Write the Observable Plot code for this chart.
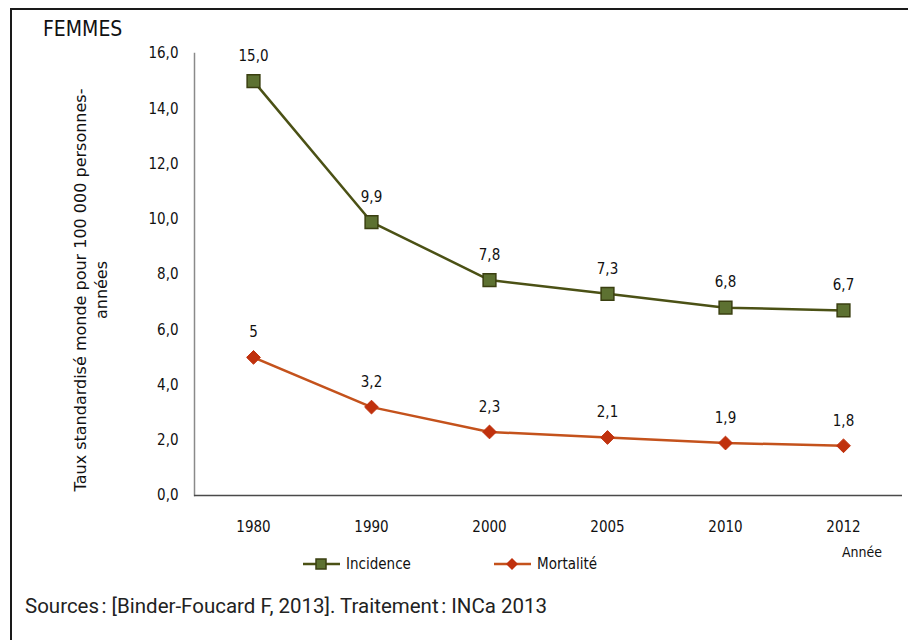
<!DOCTYPE html>
<html>
<head>
<meta charset="utf-8">
<script src="https://cdn.jsdelivr.net/npm/d3@7"></script>
<script src="https://cdn.jsdelivr.net/npm/@observablehq/plot@0.6"></script>
<style>
  html, body { margin: 0; padding: 0; background: #fff; }
  #wrap { position: relative; width: 908px; height: 640px; overflow: hidden; background: #fff; }
  #wrap svg { position: absolute; left: 0; top: 0; }
  .frame { position: absolute; left: 10px; top: 8px; width: 1000px; height: 1000px; border-left: 2px solid #1a1a1a; border-top: 2px solid #1a1a1a; }
  .cond { font-family: "DejaVu Sans Condensed", "Liberation Sans Narrow", "DejaVu Sans", sans-serif; color: #111; }
  #title { position: absolute; left: 43px; top: 17px; font-size: 21px; }
  #ylab { position: absolute; left: 91px; top: 290px; width: 520px; transform: translate(-50%, -50%) rotate(-90deg); text-align: center; font-family: "DejaVu Sans", sans-serif; font-size: 16px; line-height: 21px; color: #111; }
  #annee { position: absolute; left: 842px; top: 544px; font-size: 14px; }
  #legend { position: absolute; left: 0; top: 553px; width: 908px; height: 22px; }
  .lg { position: absolute; top: 0; display: flex; align-items: center; height: 22px; font-size: 15px; }
  .lg svg { position: static !important; }
  #source { position: absolute; left: 25px; top: 594px; font-family: Roboto, "Liberation Sans", sans-serif; font-size: 21px; color: #222; white-space: nowrap; transform-origin: 0 0; }
</style>
</head>
<body>
<div id="wrap"></div>
<script>
const years = ["1980", "1990", "2000", "2005", "2010", "2012"];
const incidence = [15.0, 9.9, 7.8, 7.3, 6.8, 6.7];
const mortalite = [5, 3.2, 2.3, 2.1, 1.9, 1.8];
const incidenceLabels = ["15,0", "9,9", "7,8", "7,3", "6,8", "6,7"];
const mortaliteLabels = ["5", "3,2", "2,3", "2,1", "1,9", "1,8"];
const yTicks = [0, 2, 4, 6, 8, 10, 12, 14, 16];
const seriesNames = ["Incidence", "Mortalité"];

const incColor = "#4b5115", incFill = "#5d7131", incEdge = "#3a3f10";
const morColor = "#c4521c", morFill = "#c0310d";

const inc = years.map((y, i) => ({year: y, value: incidence[i], label: incidenceLabels[i]}));
const mor = years.map((y, i) => ({year: y, value: mortalite[i], label: mortaliteLabels[i]}));
const fmt = d => d.toFixed(1).replace(".", ",");
const font = "'DejaVu Sans Condensed', 'Liberation Sans Narrow', 'DejaVu Sans', sans-serif";

const chart = Plot.plot({
  width: 908,
  height: 640,
  marginLeft: 194,
  marginRight: 6,
  marginTop: 53,
  marginBottom: 145,
  style: {fontFamily: font, fontSize: "15px", color: "#111", background: "transparent", overflow: "visible"},
  x: {type: "point", domain: years, padding: 0.5},
  y: {domain: [0, 16]},
  marks: [
    Plot.axisX({tickSize: 0, tickPadding: 26, label: null, fontSize: 15}),
    Plot.axisY({ticks: yTicks, tickSize: 0, tickPadding: 16, tickFormat: fmt, label: null, fontSize: 15}),
    Plot.frame({anchor: "left", stroke: "#8a8a8a", strokeWidth: 1.5}),
    Plot.ruleY([0], {stroke: "#4a4a4a", strokeWidth: 1.5}),
    Plot.line(inc, {x: "year", y: "value", stroke: incColor, strokeWidth: 2.5}),
    Plot.line(mor, {x: "year", y: "value", stroke: morColor, strokeWidth: 2.5}),
    Plot.dot(inc, {x: "year", y: "value", symbol: "square", r: 7.2, fill: incFill, stroke: incEdge, strokeWidth: 1.5}),
    Plot.dot(mor, {x: "year", y: "value", symbol: "diamond2", r: 6.2, fill: morFill, stroke: morFill, strokeWidth: 1}),
    Plot.text(inc, {x: "year", y: "value", text: "label", dy: -25, fill: "#111", fontSize: 15}),
    Plot.text(mor, {x: "year", y: "value", text: "label", dy: -25, fill: "#111", fontSize: 15})
  ]
});

const wrap = document.getElementById("wrap");
wrap.appendChild(chart);

function legendItem(left, name, shape, color, fill, edge) {
  const marker = shape === "square"
    ? `<rect x="14" y="6" width="10" height="10" fill="${fill}" stroke="${edge}" stroke-width="1.5"/>`
    : `<path d="M19,5 L25,11 L19,17 L13,11 Z" fill="${fill}"/>`;
  return `<div class="lg cond" style="left:${left}px"><svg width="40" height="22"><line x1="1" x2="38" y1="11" y2="11" stroke="${color}" stroke-width="2.5"/>${marker}</svg><span style="margin-left:4px">${name}</span></div>`;
}

wrap.insertAdjacentHTML("beforeend", `
  <div class="frame"></div>
  <div id="title" class="cond">FEMMES</div>
  <div id="ylab">Taux standardisé monde pour 100 000 personnes-<br>années</div>
  <div id="annee" class="cond">Année</div>
  <div id="legend">
    ${legendItem(302, seriesNames[0], "square", incColor, incFill, incEdge)}
    ${legendItem(493, seriesNames[1], "diamond", morColor, morFill, morFill)}
  </div>
  <div id="source">Sources\u202F: [Binder-Foucard F, 2013]. Traitement\u202F: INCa 2013</div>
`);
const src = document.getElementById("source");
const w = src.getBoundingClientRect().width;
if (w > 0) src.style.transform = `scaleX(${522 / w})`;
</script>
</body>
</html>
